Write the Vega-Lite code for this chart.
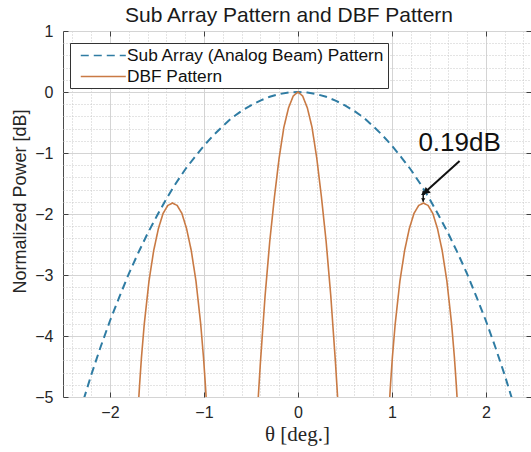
{
  "$schema": "https://vega.github.io/schema/vega-lite/v6.json",
  "width": 468,
  "height": 366,
  "autosize": {"type": "none"},
  "padding": {"left": 63, "top": 31, "right": 0, "bottom": 55},
  "title": {"text": "Sub Array Pattern and DBF Pattern", "fontSize": 21, "font": "Liberation Sans", "fontWeight": "normal", "color": "#1a1a1a", "offset": -3, "dx": -8},
  "config": {
    "view": {"stroke": "#4a4a4a", "strokeWidth": 1},
    "axis": {"labelFont": "Liberation Sans", "titleFont": "Liberation Sans", "labelColor": "#262626", "titleColor": "#262626", "titleFontWeight": "normal"},
    "legend": {"labelFont": "Liberation Sans"}
  },
  "datasets": {
    "sub": [
      {"x": -2.36, "y": -5.45}, {"x": -2.3, "y": -5.14}, {"x": -2.2, "y": -4.64}, {"x": -2.1, "y": -4.18},
      {"x": -2.0, "y": -3.75}, {"x": -1.9, "y": -3.36}, {"x": -1.8, "y": -2.98}, {"x": -1.7, "y": -2.64},
      {"x": -1.6, "y": -2.32}, {"x": -1.5, "y": -2.03}, {"x": -1.4, "y": -1.75}, {"x": -1.3, "y": -1.5},
      {"x": -1.2, "y": -1.27}, {"x": -1.1, "y": -1.07}, {"x": -1.0, "y": -0.88}, {"x": -0.9, "y": -0.71},
      {"x": -0.8, "y": -0.56}, {"x": -0.7, "y": -0.42}, {"x": -0.6, "y": -0.31}, {"x": -0.5, "y": -0.22},
      {"x": -0.4, "y": -0.14}, {"x": -0.3, "y": -0.078}, {"x": -0.2, "y": -0.035}, {"x": -0.1, "y": -0.009},
      {"x": 0, "y": 0},
      {"x": 0.1, "y": -0.009}, {"x": 0.2, "y": -0.035}, {"x": 0.3, "y": -0.078}, {"x": 0.4, "y": -0.14},
      {"x": 0.5, "y": -0.22}, {"x": 0.6, "y": -0.31}, {"x": 0.7, "y": -0.42}, {"x": 0.8, "y": -0.56},
      {"x": 0.9, "y": -0.71}, {"x": 1.0, "y": -0.88}, {"x": 1.1, "y": -1.07}, {"x": 1.2, "y": -1.27},
      {"x": 1.3, "y": -1.5}, {"x": 1.4, "y": -1.75}, {"x": 1.5, "y": -2.03}, {"x": 1.6, "y": -2.32},
      {"x": 1.7, "y": -2.64}, {"x": 1.8, "y": -2.98}, {"x": 1.9, "y": -3.36}, {"x": 2.0, "y": -3.75},
      {"x": 2.1, "y": -4.18}, {"x": 2.2, "y": -4.64}, {"x": 2.3, "y": -5.14}, {"x": 2.36, "y": -5.45}
    ],
    "dbf": [
      {"lobe": "L", "x": -1.705, "y": -5.3}, {"lobe": "L", "x": -1.685, "y": -4.8}, {"lobe": "L", "x": -1.665, "y": -4.35},
      {"lobe": "L", "x": -1.635, "y": -3.8}, {"lobe": "L", "x": -1.585, "y": -3.1}, {"lobe": "L", "x": -1.535, "y": -2.6},
      {"lobe": "L", "x": -1.485, "y": -2.24}, {"lobe": "L", "x": -1.435, "y": -1.99}, {"lobe": "L", "x": -1.385, "y": -1.86},
      {"lobe": "L", "x": -1.335, "y": -1.82}, {"lobe": "L", "x": -1.285, "y": -1.86}, {"lobe": "L", "x": -1.235, "y": -1.99},
      {"lobe": "L", "x": -1.185, "y": -2.24}, {"lobe": "L", "x": -1.135, "y": -2.6}, {"lobe": "L", "x": -1.085, "y": -3.1},
      {"lobe": "L", "x": -1.035, "y": -3.8}, {"lobe": "L", "x": -1.005, "y": -4.35}, {"lobe": "L", "x": -0.985, "y": -4.8},
      {"lobe": "L", "x": -0.965, "y": -5.3},
      {"lobe": "M", "x": -0.44, "y": -5.5}, {"lobe": "M", "x": -0.42, "y": -4.95}, {"lobe": "M", "x": -0.4, "y": -4.45},
      {"lobe": "M", "x": -0.35, "y": -3.35}, {"lobe": "M", "x": -0.3, "y": -2.45}, {"lobe": "M", "x": -0.25, "y": -1.72},
      {"lobe": "M", "x": -0.2, "y": -1.08}, {"lobe": "M", "x": -0.15, "y": -0.58}, {"lobe": "M", "x": -0.1, "y": -0.26},
      {"lobe": "M", "x": -0.05, "y": -0.065}, {"lobe": "M", "x": 0, "y": 0}, {"lobe": "M", "x": 0.05, "y": -0.065},
      {"lobe": "M", "x": 0.1, "y": -0.26}, {"lobe": "M", "x": 0.15, "y": -0.58}, {"lobe": "M", "x": 0.2, "y": -1.08},
      {"lobe": "M", "x": 0.25, "y": -1.72}, {"lobe": "M", "x": 0.3, "y": -2.45}, {"lobe": "M", "x": 0.35, "y": -3.35},
      {"lobe": "M", "x": 0.4, "y": -4.45}, {"lobe": "M", "x": 0.42, "y": -4.95}, {"lobe": "M", "x": 0.44, "y": -5.5},
      {"lobe": "R", "x": 0.965, "y": -5.3}, {"lobe": "R", "x": 0.985, "y": -4.8}, {"lobe": "R", "x": 1.005, "y": -4.35},
      {"lobe": "R", "x": 1.035, "y": -3.8}, {"lobe": "R", "x": 1.085, "y": -3.1}, {"lobe": "R", "x": 1.135, "y": -2.6},
      {"lobe": "R", "x": 1.185, "y": -2.24}, {"lobe": "R", "x": 1.235, "y": -1.99}, {"lobe": "R", "x": 1.285, "y": -1.86},
      {"lobe": "R", "x": 1.335, "y": -1.82}, {"lobe": "R", "x": 1.385, "y": -1.86}, {"lobe": "R", "x": 1.435, "y": -1.99},
      {"lobe": "R", "x": 1.485, "y": -2.24}, {"lobe": "R", "x": 1.535, "y": -2.6}, {"lobe": "R", "x": 1.585, "y": -3.1},
      {"lobe": "R", "x": 1.635, "y": -3.8}, {"lobe": "R", "x": 1.665, "y": -4.35}, {"lobe": "R", "x": 1.685, "y": -4.8},
      {"lobe": "R", "x": 1.705, "y": -5.3}
    ]
  },
  "resolve": {"axis": {"x": "independent", "y": "independent"}},
  "layer": [
    {
      "data": {"name": "sub"},
      "mark": {"type": "line", "opacity": 0, "clip": true},
      "encoding": {
        "x": {"field": "x", "type": "quantitative", "scale": {"domain": [-2.5, 2.48], "nice": false, "zero": false},
              "axis": {"orient": "bottom", "values": [-2.4, -2.2, -2, -1.8, -1.6, -1.4, -1.2, -1, -0.8, -0.6, -0.4, -0.2, 0, 0.2, 0.4, 0.6, 0.8, 1, 1.2, 1.4, 1.6, 1.8, 2, 2.2, 2.4],
                       "grid": true, "gridDash": [1, 2], "gridColor": "#c8c8c8", "gridWidth": 1, "labels": false, "ticks": false, "domain": false, "title": null}},
        "y": {"field": "y", "type": "quantitative", "scale": {"domain": [-5, 1], "nice": false, "zero": false},
              "axis": {"orient": "left", "values": [-4.8, -4.6, -4.4, -4.2, -4, -3.8, -3.6, -3.4, -3.2, -3, -2.8, -2.6, -2.4, -2.2, -2, -1.8, -1.6, -1.4, -1.2, -1, -0.8, -0.6, -0.4, -0.2, 0, 0.2, 0.4, 0.6, 0.8],
                       "grid": true, "gridDash": [1, 2], "gridColor": "#c8c8c8", "gridWidth": 1, "labels": false, "ticks": false, "domain": false, "title": null}}
      }
    },
    {
      "data": {"name": "sub"},
      "mark": {"type": "line", "opacity": 0, "clip": true},
      "encoding": {
        "x": {"field": "x", "type": "quantitative",
              "axis": {"orient": "top", "values": [-2, -1, 0, 1, 2], "grid": false, "labels": false, "ticks": true, "tickSize": -5, "tickColor": "#404040", "domain": false, "title": null}},
        "y": {"field": "y", "type": "quantitative",
              "axis": {"orient": "right", "values": [-5, -4, -3, -2, -1, 0, 1], "grid": false, "labels": false, "ticks": true, "tickSize": -5, "tickColor": "#404040", "domain": false, "title": null}}
      }
    },
    {
      "data": {"name": "sub"},
      "mark": {"type": "line", "opacity": 0, "clip": true},
      "encoding": {
        "x": {"field": "x", "type": "quantitative",
              "axis": {"orient": "bottom", "values": [-2, -1, 0, 1, 2], "grid": false, "labels": false, "ticks": true, "tickSize": -5, "tickColor": "#404040", "domain": false, "title": null}},
        "y": {"field": "y", "type": "quantitative",
              "axis": {"orient": "left", "values": [-5, -4, -3, -2, -1, 0, 1], "grid": false, "labels": false, "ticks": true, "tickSize": -5, "tickColor": "#404040", "domain": false, "title": null}}
      }
    },
    {
      "data": {"name": "sub"},
      "transform": [{"calculate": "'Sub Array (Analog Beam) Pattern'", "as": "series"}],
      "mark": {"type": "line", "clip": true, "strokeWidth": 2},
      "encoding": {
        "x": {"field": "x", "type": "quantitative",
              "axis": {"orient": "bottom", "values": [-2, -1, 0, 1, 2], "grid": true, "gridColor": "#d4d4d4", "gridWidth": 1, "ticks": false, "labelPadding": 7, "labelFontSize": 16, "domain": false, "title": "θ [deg.]", "titleFont": "Liberation Serif", "titleFontSize": 21, "titlePadding": 3}},
        "y": {"field": "y", "type": "quantitative",
              "axis": {"orient": "left", "values": [-5, -4, -3, -2, -1, 0, 1], "grid": true, "gridColor": "#d4d4d4", "gridWidth": 1, "ticks": false, "labelPadding": 10, "labelFontSize": 16, "domain": false, "title": "Normalized Power [dB]", "titleFontSize": 18, "titleX": -34, "titleY": 170}},
        "color": {"field": "series", "type": "nominal",
                  "scale": {"domain": ["Sub Array (Analog Beam) Pattern", "DBF Pattern"], "range": ["#2f7ca3", "#c97a44"]},
                  "legend": {"title": null, "orient": "none", "legendX": 7, "legendY": 12, "strokeColor": "#333333", "fillColor": "#ffffff", "padding": 3, "labelFontSize": 17.3, "labelColor": "#111111", "labelLimit": 400, "symbolType": "M-0.2,0H5", "symbolSize": 300, "symbolStrokeWidth": 1.6, "rowPadding": 3, "labelOffset": 35}},
        "strokeDash": {"field": "series", "type": "nominal",
                  "scale": {"domain": ["Sub Array (Analog Beam) Pattern", "DBF Pattern"], "range": [[8, 5], [1, 0]]},
                  "legend": {"title": null, "orient": "none", "legendX": 7, "legendY": 12, "strokeColor": "#333333", "fillColor": "#ffffff", "padding": 3, "labelFontSize": 17.3, "labelColor": "#111111", "labelLimit": 400, "symbolType": "M-0.2,0H5", "symbolSize": 300, "symbolStrokeWidth": 1.6, "rowPadding": 3, "labelOffset": 35}}
      }
    },
    {
      "data": {"name": "dbf"},
      "transform": [{"calculate": "'DBF Pattern'", "as": "series"}],
      "mark": {"type": "line", "clip": true, "strokeWidth": 1.6},
      "encoding": {
        "x": {"field": "x", "type": "quantitative", "axis": null},
        "y": {"field": "y", "type": "quantitative", "axis": null},
        "detail": {"field": "lobe"},
        "color": {"field": "series", "type": "nominal"},
        "strokeDash": {"field": "series", "type": "nominal"}
      }
    },
    {
      "data": {"values": [{"x": 1.72, "y": -1.13, "x2": 1.352, "y2": -1.645}]},
      "mark": {"type": "rule", "color": "#111111", "strokeWidth": 2},
      "encoding": {
        "x": {"field": "x", "type": "quantitative", "axis": null},
        "y": {"field": "y", "type": "quantitative", "axis": null},
        "x2": {"field": "x2"},
        "y2": {"field": "y2"}
      }
    },
    {
      "data": {"values": [{"x": 1.333, "y": -1.62, "y2": -1.8}]},
      "mark": {"type": "rule", "color": "#111111", "strokeWidth": 1.5},
      "encoding": {
        "x": {"field": "x", "type": "quantitative", "axis": null},
        "y": {"field": "y", "type": "quantitative", "axis": null},
        "y2": {"field": "y2"}
      }
    },
    {
      "data": {"values": [
        {"x": 1.36, "y": -1.64, "shape": "triangle-up", "angle": 228, "size": 60},
        {"x": 1.333, "y": -1.66, "shape": "triangle-up", "angle": 0, "size": 18},
        {"x": 1.333, "y": -1.77, "shape": "triangle-down", "angle": 0, "size": 18}
      ]},
      "mark": {"type": "point", "filled": true, "color": "#111111", "opacity": 1},
      "encoding": {
        "x": {"field": "x", "type": "quantitative", "axis": null},
        "y": {"field": "y", "type": "quantitative", "axis": null},
        "shape": {"field": "shape", "type": "nominal", "scale": null, "legend": null},
        "angle": {"field": "angle", "type": "quantitative", "scale": null},
        "size": {"field": "size", "type": "quantitative", "scale": null, "legend": null}
      }
    },
    {
      "data": {"values": [{"x": 1.72, "y": -0.83, "label": "0.19dB"}]},
      "mark": {"type": "text", "fontSize": 26, "font": "Liberation Sans", "color": "#111111", "align": "center", "baseline": "middle"},
      "encoding": {
        "x": {"field": "x", "type": "quantitative", "axis": null},
        "y": {"field": "y", "type": "quantitative", "axis": null},
        "text": {"field": "label"}
      }
    }
  ]
}
